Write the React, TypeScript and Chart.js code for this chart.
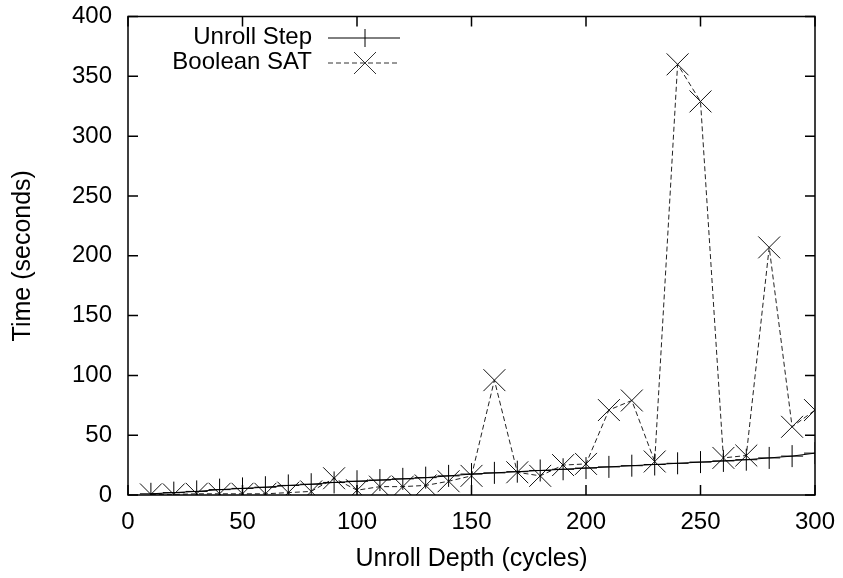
import React, { useEffect, useRef } from "react";
import { Chart, registerables } from "chart.js";
Chart.register(...registerables);

const depths = [10, 20, 30, 40, 50, 60, 70, 80, 90, 100, 110, 120, 130, 140, 150, 160, 170, 180, 190, 200, 210, 220, 230, 240, 250, 260, 270, 280, 290, 300];
const unrollStep = [1, 2, 3, 4.5, 5.5, 6.5, 8, 9, 10.5, 11.5, 12.5, 13.5, 14.5, 16, 17.5, 18.5, 19.5, 20.5, 21.5, 22.5, 23.5, 24.5, 25.5, 26.5, 27.5, 28.5, 29.5, 31, 32.5, 35];
const booleanSat = [0.5, 0.5, 1, 1, 1, 1, 2, 3, 14, 4, 7, 7, 8, 11.5, 16, 96, 19, 16, 25, 26, 71, 79, 28, 360, 329, 31, 33, 207, 57, 71];
const xTicks = [0, 50, 100, 150, 200, 250, 300];
const yTicks = [0, 50, 100, 150, 200, 250, 300, 350, 400];
const seriesNames = ["Unroll Step", "Boolean SAT"];
const xTitle = "Unroll Depth (cycles)";
const yTitle = "Time (seconds)";

const FONT = "'Liberation Sans', Arial, Helvetica, sans-serif";

const framePlugin = {
  id: "frame",
  afterDraw(chart: any) {
    const ctx = chart.ctx;
    const { left, right, top, bottom } = chart.chartArea;
    const xs = chart.scales.x;
    const ys = chart.scales.y;
    ctx.save();
    ctx.strokeStyle = "#000";
    ctx.lineWidth = 1.5;
    ctx.setLineDash([]);
    ctx.strokeRect(left, top, right - left, bottom - top);
    const tl = 10;
    ctx.beginPath();
    xTicks.forEach((v) => {
      const px = xs.getPixelForValue(v);
      ctx.moveTo(px, bottom);
      ctx.lineTo(px, bottom - tl);
      ctx.moveTo(px, top);
      ctx.lineTo(px, top + tl);
    });
    yTicks.forEach((v) => {
      const py = ys.getPixelForValue(v);
      ctx.moveTo(left, py);
      ctx.lineTo(left + tl, py);
      ctx.moveTo(right, py);
      ctx.lineTo(right - tl, py);
    });
    ctx.stroke();

    // legend
    ctx.font = `24px ${FONT}`;
    ctx.fillStyle = "#000";
    ctx.textAlign = "right";
    ctx.textBaseline = "middle";
    const textRight = 312;
    const x0 = 328, x1 = 400, xm = 365;
    const rows = [37, 62];
    ctx.fillText(seriesNames[0], textRight, rows[0]);
    ctx.fillText(seriesNames[1], textRight, rows[1]);
    ctx.lineWidth = 1;
    ctx.strokeStyle = "#000";
    ctx.beginPath();
    ctx.moveTo(x0, rows[0] + 1);
    ctx.lineTo(x1, rows[0] + 1);
    ctx.moveTo(xm, rows[0] - 8);
    ctx.lineTo(xm, rows[0] + 10);
    ctx.stroke();
    ctx.strokeStyle = "#333";
    ctx.setLineDash([5, 3]);
    ctx.beginPath();
    ctx.moveTo(x0, rows[1] + 1);
    ctx.lineTo(x1, rows[1] + 1);
    ctx.stroke();
    ctx.setLineDash([]);
    ctx.beginPath();
    ctx.moveTo(xm - 11, rows[1] - 10);
    ctx.lineTo(xm + 11, rows[1] + 12);
    ctx.moveTo(xm + 11, rows[1] - 10);
    ctx.lineTo(xm - 11, rows[1] + 12);
    ctx.stroke();
    ctx.restore();
  },
};

export default function App() {
  const ref = useRef<HTMLCanvasElement | null>(null);
  useEffect(() => {
    if (!ref.current) return;
    const chart = new Chart(ref.current, {
      type: "line",
      data: {
        datasets: [
          {
            label: seriesNames[0],
            data: depths.map((d, i) => ({ x: d, y: unrollStep[i] })),
            borderColor: "#000",
            borderWidth: 1,
            pointStyle: "cross",
            pointRadius: 11,
            pointBorderColor: "#000",
            pointBorderWidth: 1,
            fill: false,
            tension: 0,
          },
          {
            label: seriesNames[1],
            data: depths.map((d, i) => ({ x: d, y: booleanSat[i] })),
            borderColor: "#222",
            borderWidth: 1,
            borderDash: [5, 3],
            pointStyle: "crossRot",
            pointRadius: 15.5,
            pointBorderColor: "#111",
            pointBorderWidth: 1,
            fill: false,
            tension: 0,
          },
        ],
      },
      options: {
        animation: false,
        responsive: false,
        layout: { padding: { top: 15, right: 28, left: 0, bottom: 0 } },
        plugins: { legend: { display: false }, tooltip: { enabled: false } },
        scales: {
          x: {
            type: "linear",
            min: 0,
            max: 300,
            afterBuildTicks: (s: any) => { s.ticks = xTicks.map((v) => ({ value: v })); },
            afterFit: (s: any) => { s.height = 83; s.paddingLeft = 0; s.paddingRight = 0; },
            grid: { display: false, drawTicks: false },
            border: { display: false },
            ticks: { color: "#000", padding: 13, font: { family: FONT, size: 24 }, maxRotation: 0, autoSkip: false },
            title: { display: true, text: xTitle, color: "#000", font: { family: FONT, size: 25 }, padding: { top: 0, bottom: 4 } },
          },
          y: {
            type: "linear",
            min: 0,
            max: 400,
            afterBuildTicks: (s: any) => { s.ticks = yTicks.map((v) => ({ value: v })); },
            afterFit: (s: any) => { s.width = 128; s.paddingTop = 0; s.paddingBottom = 0; },
            grid: { display: false, drawTicks: false },
            border: { display: false },
            ticks: { color: "#000", padding: 16, font: { family: FONT, size: 24 }, autoSkip: false },
            title: { display: true, text: yTitle, color: "#000", font: { family: FONT, size: 25 }, padding: { top: 8, bottom: 0 } },
          },
        },
      },
      plugins: [framePlugin],
    } as any);
    return () => chart.destroy();
  }, []);
  return (
    <div style={{ position: "fixed", left: 0, top: 0, width: 843, height: 578, background: "#fff" }}>
      <canvas ref={ref} width={843} height={578} style={{ display: "block" }} />
    </div>
  );
}
